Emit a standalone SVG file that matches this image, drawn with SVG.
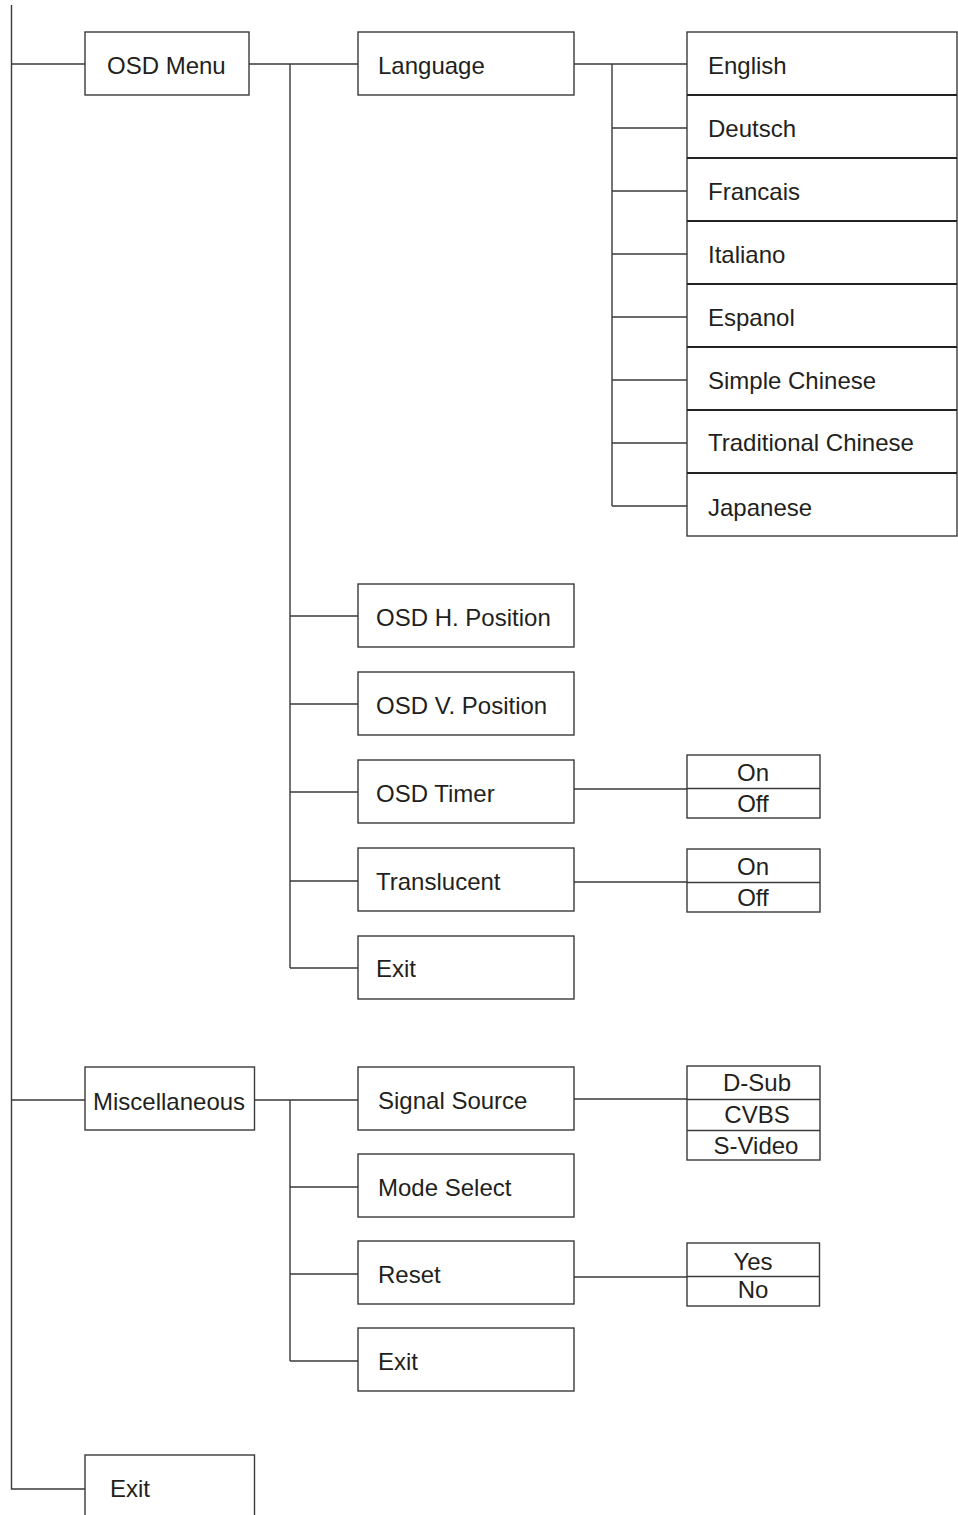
<svg xmlns="http://www.w3.org/2000/svg" width="958" height="1515" viewBox="0 0 958 1515">
<style>
.b{fill:#fff;stroke:#3a3a3a;stroke-width:1.4}
.s{stroke:#222;stroke-width:1.8;fill:none}
.c{stroke:#3a3a3a;stroke-width:1.4;fill:none}
text{font-family:"Liberation Sans",Arial,sans-serif;font-size:24px;fill:#231f20}
.m{text-anchor:middle}
</style>
<rect width="958" height="1515" fill="#fff"/>
<g id="connectors">
<path class="c" d="M11.5 5V1489H85"/>
<path class="c" d="M11.5 64H85"/>
<path class="c" d="M11.5 1100H85"/>
<path class="c" d="M249 64H358M290 64V968"/>
<path class="c" d="M290 616H358M290 704H358M290 792H358M290 881H358M290 968H358"/>
<path class="c" d="M574 64H687M612 64V506"/>
<path class="c" d="M612 128H687M612 191H687M612 254H687M612 317H687M612 380H687M612 443H687M612 506H687"/>
<path class="c" d="M574 789H687M574 882H687"/>
<path class="c" d="M254.5 1100H358M290 1100V1361"/>
<path class="c" d="M290 1187H358M290 1274H358M290 1361H358"/>
<path class="c" d="M574 1099H687M574 1277H687"/>
</g>
<g id="osd-menu"><rect class="b" x="85" y="32" width="164" height="63"/><text x="107" y="74">OSD Menu</text></g>
<g id="language"><rect class="b" x="358" y="32" width="216" height="63"/><text x="378" y="74">Language</text></g>
<g id="languages">
<rect class="b" x="687" y="32" width="270" height="504"/>
<path class="s" d="M687 95H957M687 158H957M687 221H957M687 284H957M687 347H957M687 410H957M687 473H957"/>
<text x="708" y="74">English</text>
<text x="708" y="137">Deutsch</text>
<text x="708" y="200">Francais</text>
<text x="708" y="263">Italiano</text>
<text x="708" y="326">Espanol</text>
<text x="708" y="389">Simple Chinese</text>
<text x="708" y="451">Traditional Chinese</text>
<text x="708" y="516">Japanese</text>
</g>
<g id="osd-h"><rect class="b" x="358" y="584" width="216" height="63"/><text x="376" y="626">OSD H. Position</text></g>
<g id="osd-v"><rect class="b" x="358" y="672" width="216" height="63"/><text x="376" y="714">OSD V. Position</text></g>
<g id="osd-timer"><rect class="b" x="358" y="760" width="216" height="63"/><text x="376" y="802">OSD Timer</text></g>
<g id="translucent"><rect class="b" x="358" y="848" width="216" height="63"/><text x="376" y="890">Translucent</text></g>
<g id="osd-exit"><rect class="b" x="358" y="936" width="216" height="63"/><text x="376" y="977">Exit</text></g>
<g id="timer-onoff"><rect class="b" x="687" y="755" width="133" height="63"/><path class="c" d="M687 788.5H820"/><text class="m" x="753" y="781">On</text><text class="m" x="753" y="812">Off</text></g>
<g id="trans-onoff"><rect class="b" x="687" y="849" width="133" height="63"/><path class="c" d="M687 882.5H820"/><text class="m" x="753" y="875">On</text><text class="m" x="753" y="906">Off</text></g>
<g id="misc"><rect class="b" x="85" y="1067" width="169.5" height="63"/><text x="93" y="1110">Miscellaneous</text></g>
<g id="signal-source"><rect class="b" x="358" y="1067" width="216" height="63"/><text x="378" y="1109">Signal Source</text></g>
<g id="mode-select"><rect class="b" x="358" y="1154" width="216" height="63"/><text x="378" y="1196">Mode Select</text></g>
<g id="reset"><rect class="b" x="358" y="1241" width="216" height="63"/><text x="378" y="1283">Reset</text></g>
<g id="misc-exit"><rect class="b" x="358" y="1328" width="216" height="63"/><text x="378" y="1370">Exit</text></g>
<g id="sources"><rect class="b" x="687" y="1066" width="133" height="94"/><path class="c" d="M687 1099.5H820M687 1130.5H820"/><text class="m" x="757" y="1091">D-Sub</text><text class="m" x="757" y="1123">CVBS</text><text class="m" x="756" y="1154">S-Video</text></g>
<g id="yesno"><rect class="b" x="687" y="1243" width="132.5" height="63"/><path class="c" d="M687 1276.5H819.5"/><text class="m" x="753" y="1270">Yes</text><text class="m" x="753" y="1298">No</text></g>
<g id="exit"><rect class="b" x="85" y="1455" width="169.5" height="80"/><text x="110" y="1497">Exit</text></g>
</svg>
